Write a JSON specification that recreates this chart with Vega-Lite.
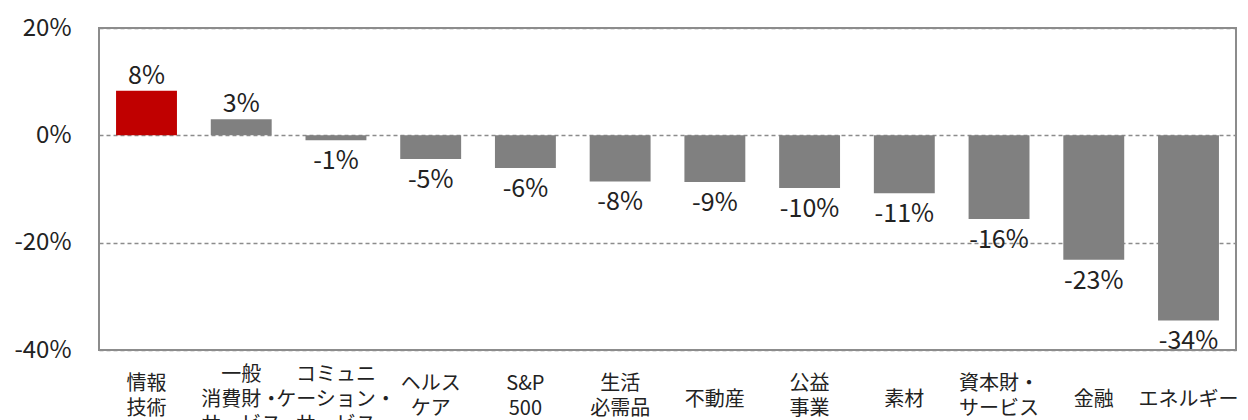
{
  "$schema": "https://vega.github.io/schema/vega-lite/v6.json",
  "autosize": {"type": "none"},
  "padding": {"left": 99, "top": 28, "right": 12, "bottom": 70},
  "width": 1137,
  "height": 322,
  "background": "white",
  "config": {
    "font": "Noto Sans CJK JP",
    "view": {"stroke": "#8c8c8c", "strokeWidth": 2}
  },
  "data": {
    "values": [
      {"cat": "情報\n技術", "v": 8.3, "label": "8%", "hl": "y"},
      {"cat": "一般\n消費財・\nサービス", "v": 3.0, "label": "3%", "hl": "n"},
      {"cat": "コミュニ\nケーション・\nサービス", "v": -0.9, "label": "-1%", "hl": "n"},
      {"cat": "ヘルス\nケア", "v": -4.4, "label": "-5%", "hl": "n"},
      {"cat": "S&P\n500", "v": -6.1, "label": "-6%", "hl": "n"},
      {"cat": "生活\n必需品", "v": -8.6, "label": "-8%", "hl": "n"},
      {"cat": "不動産", "v": -8.7, "label": "-9%", "hl": "n"},
      {"cat": "公益\n事業", "v": -9.8, "label": "-10%", "hl": "n"},
      {"cat": "素材", "v": -10.8, "label": "-11%", "hl": "n"},
      {"cat": "資本財・\nサービス", "v": -15.6, "label": "-16%", "hl": "n"},
      {"cat": "金融", "v": -23.2, "label": "-23%", "hl": "n"},
      {"cat": "エネルギー", "v": -34.5, "label": "-34%", "hl": "n"}
    ]
  },
  "encoding": {
    "x": {
      "field": "cat", "type": "nominal", "sort": null,
      "scale": {"paddingInner": 0.357, "paddingOuter": 0.18},
      "axis": {
        "title": null, "labelAngle": 0, "ticks": false, "domain": false,
        "labelExpr": "split(datum.label, '\\n')",
        "labelFontSize": 20, "labelColor": "#222", "labelLineHeight": 25,
        "labelBaseline": "top", "labelLimit": 0,
        "labelPadding": {
          "condition": [
            {"test": "length(split(datum.value, '\\n')) == 3", "value": 14},
            {"test": "length(split(datum.value, '\\n')) == 2", "value": 23}
          ],
          "value": 39
        }
      }
    },
    "y": {
      "field": "v", "type": "quantitative",
      "scale": {"domain": [-40, 20], "nice": false, "zero": true},
      "axis": {
        "title": null, "values": [-40, -20, 0, 20], "ticks": false, "domain": false,
        "labelExpr": "datum.value + '%'", "labelFontSize": 24, "labelColor": "#222",
        "labelPadding": 28, "gridColor": "#8c8c8c", "gridDash": [4, 3], "gridWidth": 1.5
      }
    }
  },
  "layer": [
    {
      "mark": {"type": "bar"},
      "encoding": {
        "color": {
          "field": "hl", "type": "nominal",
          "scale": {"domain": ["y", "n"], "range": ["#C00000", "#808080"]},
          "legend": null
        }
      }
    },
    {
      "mark": {
        "type": "text", "fontSize": 25, "color": "#222",
        "baseline": {"expr": "datum.v >= 0 ? 'bottom' : 'top'"},
        "dy": {"expr": "datum.v >= 0 ? -2 : 9"}
      },
      "encoding": {"text": {"field": "label"}}
    }
  ]
}
